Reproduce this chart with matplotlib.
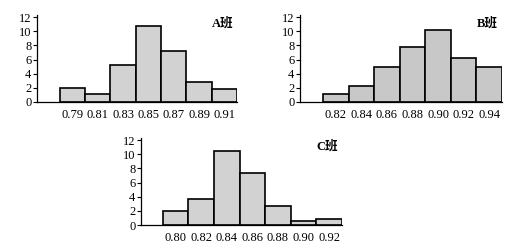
import matplotlib.pyplot as plt

# bin centres and counts
a_bins = [0.79, 0.81, 0.83, 0.85, 0.87, 0.89, 0.91]
a_counts = [2.0, 1.2, 5.3, 10.7, 7.2, 2.8, 1.8]
b_bins = [0.82, 0.84, 0.86, 0.88, 0.90, 0.92, 0.94]
b_counts = [1.1, 2.3, 5.0, 7.8, 10.2, 6.2, 4.9]
c_bins = [0.80, 0.82, 0.84, 0.86, 0.88, 0.90, 0.92]
c_counts = [2.0, 3.7, 10.4, 7.4, 2.7, 0.6, 0.8]
y_ticks = [0, 2, 4, 6, 8, 10, 12]

serif = ['Liberation Serif', 'Noto Sans CJK SC']
W, H = 521, 246

fig = plt.figure(figsize=(W / 100, H / 100), dpi=100)


def panel(px_left, px_right, px_zero, xlim, bins, counts, label, face):
    ax = fig.add_axes([px_left / W, (H - px_zero) / H,
                       (px_right - px_left) / W, 87 / H])
    ax.bar(bins, counts, width=0.02, color=face, edgecolor='black',
           linewidth=1.2)
    ax.set_xlim(*xlim)
    ax.set_ylim(0, 12.3)
    ax.set_xticks(bins)
    ax.set_xticklabels([f"{b:.2f}" for b in bins])
    ax.set_yticks(y_ticks)
    ax.spines['top'].set_visible(False)
    ax.spines['right'].set_visible(False)
    for s in ('left', 'bottom'):
        ax.spines[s].set_linewidth(0.9)
    ax.tick_params(axis='x', length=0, pad=5)
    ax.tick_params(axis='y', length=3, width=0.8, pad=1)
    for t in ax.get_xticklabels() + ax.get_yticklabels():
        t.set_family(serif)
        t.set_fontsize(9)
    ax.text(0.98, 0.97, label, transform=ax.transAxes, ha='right', va='top',
            fontsize=9, family=serif, fontweight='bold')
    return ax


panel(37, 237, 102, (0.762, 0.92), a_bins, a_counts, 'A班', '#d2d2d2')
panel(300, 502, 102, (0.792, 0.95), b_bins, b_counts, 'B班', '#c8c8c8')
panel(141, 342, 225, (0.773, 0.93), c_bins, c_counts, 'C班', '#d2d2d2')

fig.savefig('out.png', dpi=100)
